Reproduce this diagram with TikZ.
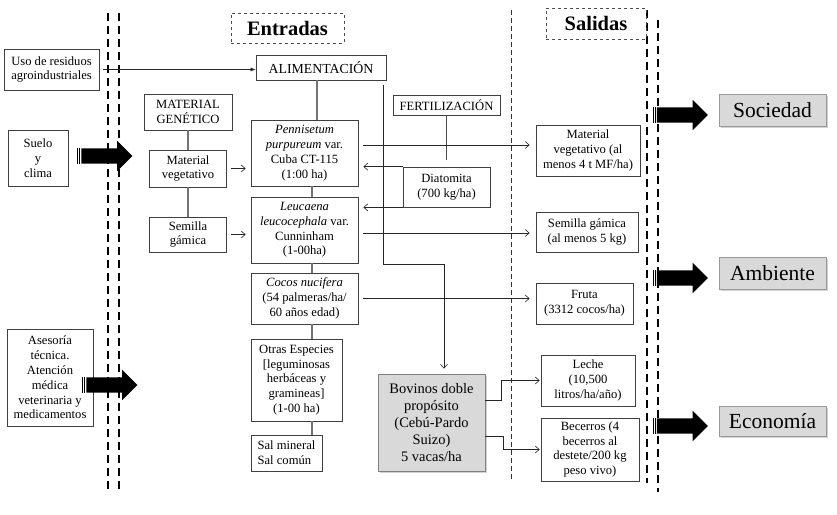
\documentclass[tikz,border=0pt]{standalone}
\usepackage{fontspec}
\setmainfont{Liberation Serif}
\usetikzlibrary{arrows.meta,shapes.arrows,shadows}

\begin{document}
\begin{tikzpicture}[x=1pt, y=-1pt,
  box/.style = {shape=rectangle, draw=black!75, line width=0.7pt,
    fill=white, align=center, inner sep=0pt,
    font=\fontsize{12.6}{14.8}\selectfont},
  title/.style = {box, dashed, draw=black!70,
    font=\fontsize{20.5}{24}\selectfont\bfseries},
  result/.style = {box, fill=black!15, draw=black!40,
    drop shadow={shadow xshift=1.5pt, shadow yshift=-1.5pt, fill=black!35},
    minimum width=107, font=\fontsize{21.5}{25}\selectfont},
  link/.style = {draw=black!55, line width=1.1pt},
  flow/.style = {draw=black!85, line width=0.6pt,
    -{Straight Barb[length=4pt,width=7pt]}},
  bigarrow/.style = {single arrow, fill=black, draw=none,
    inner xsep=0pt, inner ysep=7.5pt, minimum height=51pt,
    single arrow head extend=7.5pt},
  fence/.style = {line width=2.4pt, dash pattern=on 8pt off 5pt}]

  \useasboundingbox (0,0) rectangle (837,514);

  % boundaries
  \draw[fence] (108,13) -- (108,489);
  \draw[fence] (119,13) -- (119,489);
  \draw[fence] (647,10) -- (647,483);
  \draw[fence] (658,20) -- (658,492);
  \draw[black!80, line width=0.8pt, dash pattern=on 5pt off 3pt] (511,10) -- (511,480);

  \node[title, minimum width=113, minimum height=30] (entradas) at (287.5,28) {Entradas};
  \node[title, minimum width=100, minimum height=31] (salidas) at (596,23.5) {Salidas};

  % entradas externas
  \node[box, minimum width=95, minimum height=41] (uso) at (51.5,69.5)
    {Uso de residuos\\agroindustriales};
  \node[box, minimum width=60, minimum height=56] (suelo) at (38,158) {Suelo\\y\\clima};
  \node[box, minimum width=86, minimum height=97] (asesoria) at (50,377.5)
    {Asesoría\\técnica.\\Atención\\médica\\veterinaria y\\medicamentos};

  % sistema
  \node[box, minimum width=130, minimum height=25,
    font=\fontsize{13.8}{16}\selectfont] (alim) at (321,67.5) {ALIMENTACIÓN};
  \node[box, minimum width=88, minimum height=36] (matgen) at (188,112) {MATERIAL\\GENÉTICO};
  \node[box, minimum width=77, minimum height=37] (matveg) at (188,168.5) {Material\\vegetativo};
  \node[box, minimum width=77, minimum height=35] (semilla) at (188,234.5) {Semilla\\gámica};
  \node[box, minimum width=107, minimum height=66] (penn) at (304.5,153)
    {\textit{Pennisetum}\\\textit{purpureum} var.\\Cuba CT-115\\(1:00 ha)};
  \node[box, minimum width=107, minimum height=66] (leuc) at (304.5,230)
    {\textit{Leucaena}\\\textit{leucocephala} var.\\Cunninham\\(1-00ha)};
  \node[box, minimum width=107, minimum height=51] (cocos) at (304.5,298.5)
    {\textit{Cocos nucifera}\\(54 palmeras/ha/\\60 años edad)};
  \node[box, minimum width=91, minimum height=82] (otras) at (296.5,380)
    {Otras Especies\\{[}leguminosas\\herbáceas y\\gramineas{]}\\(1-00 ha)};
  \node[box, minimum width=71, minimum height=36, align=left] (sal) at (286.5,453)
    {Sal mineral\\Sal común};
  \node[box, minimum width=107, minimum height=20] (fert) at (446.5,105) {FERTILIZACIÓN};
  \node[box, minimum width=87, minimum height=40] (diat) at (446.5,187) {Diatomita\\(700 kg/ha)};
  \node[box, fill=black!15, draw=black!50,
    drop shadow={shadow xshift=1.5pt, shadow yshift=-1.5pt, fill=black!35},
    minimum width=107, minimum height=97,
    font=\fontsize{14.5}{17}\selectfont] (bov) at (431.5,422.5)
    {Bovinos doble\\propósito\\(Cebú-Pardo\\Suizo)\\5 vacas/ha};

  % salidas
  \node[box, minimum width=104, minimum height=51] (matvegout) at (588,150.5)
    {Material\\vegetativo (al\\menos 4 t MF/ha)};
  \node[box, minimum width=102, minimum height=40] (semout) at (587,232)
    {Semilla gámica\\(al menos 5 kg)};
  \node[box, minimum width=97, minimum height=41] (fruta) at (584.5,303.5)
    {Fruta\\(3312 cocos/ha)};
  \node[box, minimum width=94, minimum height=51] (leche) at (588,380.5)
    {Leche\\(10,500\\litros/ha/año)};
  \node[box, minimum width=98, minimum height=63] (becerros) at (590,449.5)
    {Becerros (4\\becerros al\\destete/200 kg\\peso vivo)};

  \node[result, minimum height=32] (sociedad) at (772.5,110) {Sociedad};
  \node[result, minimum height=32] (ambiente) at (772.5,273) {Ambiente};
  \node[result, minimum height=30] (economia) at (772.5,421) {Economía};

  % flechas gruesas
  \node[bigarrow] (suelo arrow) at (103,156) {};
  \node[bigarrow] (asesoria arrow) at (108,385) {};
  \node[bigarrow] (sociedad arrow) at (678.5,115) {};
  \node[bigarrow] (ambiente arrow) at (678.5,278) {};
  \node[bigarrow] (economia arrow) at (678.5,426) {};
  \foreach \a in {suelo arrow, asesoria arrow, sociedad arrow, ambiente arrow, economia arrow}
    \foreach \s in {1.7, 3.6}
      \draw[line width=0.9pt] ([xshift=-\s pt]\a.before tail) -- ([xshift=-\s pt]\a.after tail);

  % conexiones
  \coordinate (spine) at (312,0);
  \coordinate (alimdrop) at (317,0);
  \coordinate (bend) at (444,264);
  \draw[link] (alim.south -| alimdrop) -- (penn.north -| alimdrop);
  \draw[link] (matgen) -- (matveg);
  \draw[link] (matveg) -- (semilla);
  \draw[link] (penn.south -| spine) -- (leuc.north -| spine);
  \draw[link] (leuc.south -| spine) -- (cocos.north -| spine);
  \draw[link] (cocos.south -| spine) -- (otras.north -| spine);
  \draw[link] (otras.south -| spine) -- (sal.north -| spine);
  \draw[draw=black!70, line width=0.7pt, shorten >=7pt] (fert.south) -- (fert.south |- diat.north);

  \draw[black!85, line width=0.6pt, -{Latex[length=5pt,width=4pt]}]
    ([xshift=4pt]uso.east) -- (uso.east -| alim.west);
  \draw[flow, shorten <=4pt, shorten >=5pt] (matveg.east) -- (matveg.east -| penn.west);
  \draw[flow, shorten <=4pt, shorten >=5pt] (semilla.east) -- (semilla.east -| leuc.west);

  \coordinate (penn out) at ([yshift=8pt]penn.east);
  \coordinate (leuc out) at ([yshift=-3pt]leuc.east);
  \draw[flow, shorten <=5pt, shorten >=6pt] (penn out) -- (penn out -| matvegout.west);
  \draw[flow, shorten >=5pt] (diat.north west) -- (diat.north west -| penn.east);
  \draw[flow, shorten >=5pt] (diat.south west) -- (diat.south west -| leuc.east);
  \draw[flow, shorten <=5pt, shorten >=6pt] (leuc out) -- (leuc out -| semout.west);
  \draw[flow, shorten <=5pt, shorten >=6pt] (cocos.east) -- (cocos.east -| fruta.west);

  \draw[flow, shorten >=5pt] ([xshift=-3pt,yshift=-5pt]alim.south east) |- (bend) -- (bend |- bov.north);
  \draw[flow, shorten >=1pt] ([yshift=22.5pt]bov.east) -- ++(16,0) |- (leche.west);
  \draw[flow, shorten >=1pt] ([yshift=-13.5pt]bov.east) -- ++(18,0) |- (becerros.west);
\end{tikzpicture}
\end{document}
